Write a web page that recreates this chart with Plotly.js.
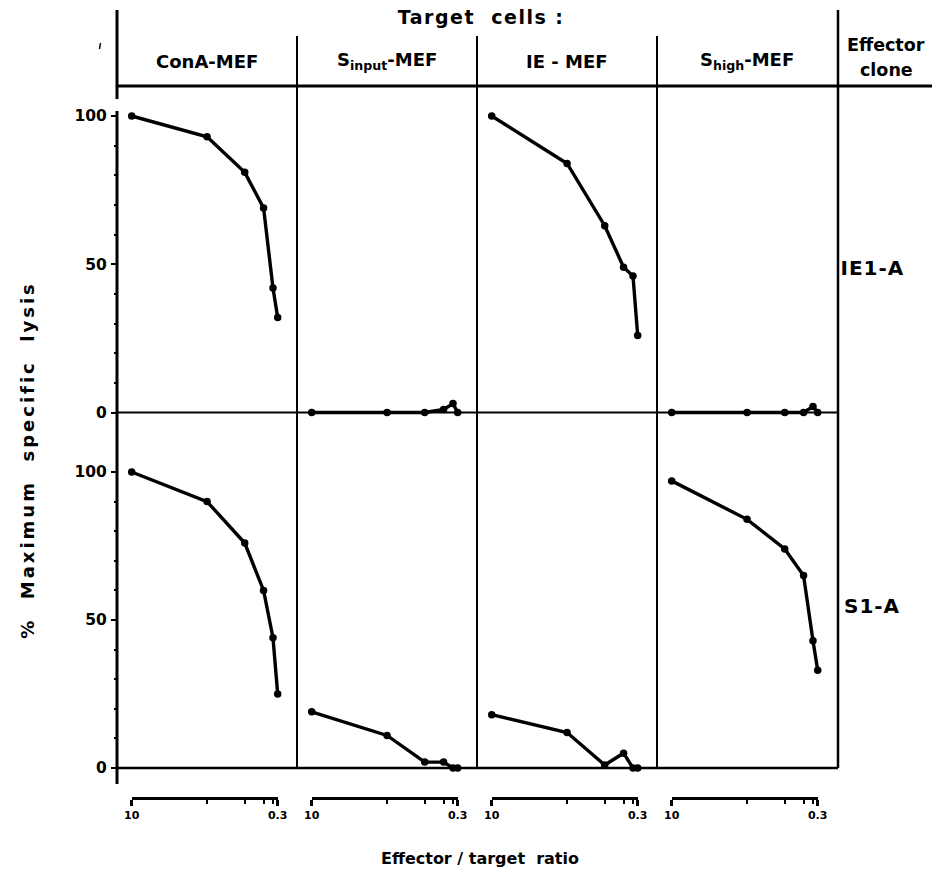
<!DOCTYPE html>
<html>
<head>
<meta charset="utf-8">
<script src="https://cdn.plot.ly/plotly-3.0.1.min.js"></script>
<style>
  html, body { margin: 0; padding: 0; background: #fff; }
  #chart { width: 932px; height: 875px; }
  g.annotation[data-index="0"] text { letter-spacing: 1.5px; }
  g.annotation[data-index="10"] text { letter-spacing: 3px; }
  g.annotation[data-index="7"] text, g.annotation[data-index="8"] text { letter-spacing: 1px; }
</style>
</head>
<body>
<div id="chart"></div>
<script>
// ---------------- data ----------------
const ratios = [10, 5, 2.5, 1.25, 0.625, 0.3125];
const ratioLabelVals = [10, 0.3125];
const ratioLabelText = ["10", "0.3"];
const ratioMinorVals = [5, 2.5, 1.25, 0.625];
const targetCells = ["ConA-MEF", "S<sub>input</sub>-MEF", "IE - MEF", "S<sub>high</sub>-MEF"];
const effectorClones = ["IE1-A", "S1-A"];
const yTickVals = [0, 50, 100];
const yTickText = ["0", "50", "100"];
const yMinorVals = [10, 20, 30, 40, 60, 70, 80, 90];

// row IE1-A
const ie1a_conA   = [100, 93, 81, 69, 42, 32];
const ie1a_sInput = [0, 0, 0, 1, 3, 0];
const ie1a_ie     = [100, 84, 63, 49, 46, 26];
const ie1a_sHigh  = [0, 0, 0, 0, 2, 0];
// row S1-A
const s1a_conA    = [100, 90, 76, 60, 44, 25];
const s1a_sInput  = [19, 11, 2, 2, 0, 0];
const s1a_ie      = [18, 12, 1, 5, 0, 0];
const s1a_sHigh   = [97, 84, 74, 65, 43, 33];

const rows = [
  [ie1a_conA, ie1a_sInput, ie1a_ie, ie1a_sHigh],
  [s1a_conA, s1a_sInput, s1a_ie, s1a_sHigh]
];

// ---------------- geometry (pixels) ----------------
const W = 932, H = 875;
const fx = p => p / W;
const fy = p => 1 - p / H;
const FONT = {family: "DejaVu Sans", color: "#000", weight: "bold"};

const colLeft0 = 117, colW = 180;
const x10_0 = 131.7, x03_0 = 277.7;
const kx = (x03_0 - x10_0) / (10 - 0.3125);

const rowGeom = [
  {zero: 412.5, hundred: 116, top: 85, bottom: 421},
  {zero: 768, hundred: 472, top: 413, bottom: 777}
];

const layout = {
  width: W, height: H,
  margin: {l: 0, r: 0, t: 0, b: 0},
  paper_bgcolor: "#fff", plot_bgcolor: "rgba(0,0,0,0)",
  showlegend: false,
  font: FONT,
  shapes: [],
  annotations: []
};

const data = [];

// x axes: 1..4 data axes, 5..8 ratio bars
for (let c = 0; c < 4; c++) {
  const x10 = x10_0 + colW * c, x03 = x03_0 + colW * c;
  const a = colLeft0 + colW * c, b = a + colW;
  const v = p => 10 - (p - x10) / kx;
  layout["xaxis" + (c + 1)] = {
    domain: [fx(a), fx(b)], range: [v(a), v(b)], autorange: false,
    anchor: "free", position: 0,
    showline: false, showgrid: false, zeroline: false,
    ticks: "", showticklabels: false, fixedrange: true
  };
  layout["xaxis" + (c + 5)] = {
    domain: [fx(x10), fx(x03)], range: [10, 0.3125], autorange: false,
    anchor: "free", position: fy(798),
    showline: true, linewidth: 3, linecolor: "#000",
    showgrid: false, zeroline: false,
    ticks: "outside", ticklen: 6, tickwidth: 2.5, tickcolor: "#000",
    tickmode: "array", tickvals: ratioLabelVals, ticktext: ratioLabelText,
    tickfont: {family: "DejaVu Sans", size: 11, color: "#000", weight: "bold"},
    minor: {tickmode: "array", tickvals: ratioMinorVals, ticks: "outside",
            ticklen: 4, tickwidth: 2, tickcolor: "#000", showgrid: false},
    fixedrange: true
  };
  data.push({x: [null], y: [null], type: "scatter", mode: "markers",
             xaxis: "x" + (c + 5), yaxis: "y", hoverinfo: "skip", showlegend: false});
}

// y axes per row
rowGeom.forEach((g, r) => {
  const k = (g.zero - g.hundred) / 100;
  const name = r === 0 ? "yaxis" : "yaxis2";
  layout[name] = {
    domain: [fy(g.bottom), fy(g.top)],
    range: [(g.zero - g.bottom) / k, (g.zero - g.top) / k], autorange: false,
    anchor: "free", position: fx(118),
    showline: false, showgrid: false, zeroline: false,
    ticks: "outside", ticklen: 7, tickwidth: 2, tickcolor: "#000",
    tickmode: "array", tickvals: yTickVals, ticktext: yTickText,
    tickfont: {family: "DejaVu Sans", size: 15.5, color: "#000", weight: "bold"},
    ticklabelstandoff: 1,
    minor: {tickmode: "array", tickvals: yMinorVals, ticks: "outside",
            ticklen: 4, tickwidth: 2, tickcolor: "#000", showgrid: false},
    fixedrange: true
  };
});

// data traces
rows.forEach((row, r) => {
  row.forEach((vals, c) => {
    data.push({
      x: ratios, y: vals, type: "scatter", mode: "lines+markers",
      xaxis: "x" + (c + 1), yaxis: r === 0 ? "y" : "y2",
      line: {color: "#000", width: 3.4},
      marker: {color: "#000", size: 7.5},
      cliponaxis: false, hoverinfo: "skip", showlegend: false
    });
  });
});

// frame lines
function seg(x0, y0, x1, y1, w) {
  layout.shapes.push({type: "line", xref: "paper", yref: "paper",
    x0: fx(x0), y0: fy(y0), x1: fx(x1), y1: fy(y1),
    line: {color: "#000", width: w}});
}
seg(117, 10, 117, 99, 3);
seg(117, 111, 117, 784, 3);
seg(838, 10, 838, 768, 2.5);
[297, 477, 657].forEach(x => seg(x, 36, x, 768, 2));
seg(117, 86, 932, 86, 3);
seg(117, 412.5, 838, 412.5, 2);
seg(117, 768, 838, 768, 2.5);
seg(100.5, 43, 99.5, 49, 1.5);

// annotations
function ann(text, x, y, size, extra) {
  layout.annotations.push(Object.assign({
    text: text, xref: "paper", yref: "paper", x: fx(x), y: fy(y),
    xanchor: "center", yanchor: "middle", showarrow: false,
    font: {family: "DejaVu Sans", size: size, color: "#000", weight: "bold"}
  }, extra || {}));
}
ann("Target\u00a0 cells\u00a0:", 481, 17, 19);                 // 0
targetCells.forEach((t, c) => ann(t, 207 + colW * c, 61, 18)); // 1-4
ann("Effector", 886, 45, 17.5);                                // 5
ann("clone", 886, 70, 17.5);                                   // 6
ann(effectorClones[0], 872, 268, 20);                          // 7
ann(effectorClones[1], 872, 606, 20);                          // 8
ann("Effector\u00a0/\u00a0target\u00a0 ratio", 480, 858, 16);  // 9
ann("%\u00a0 Maximum\u00a0 specific\u00a0 lysis", 27, 460, 18, {textangle: -90}); // 10

Plotly.newPlot("chart", data, layout, {staticPlot: true, displayModeBar: false});
</script>
</body>
</html>
